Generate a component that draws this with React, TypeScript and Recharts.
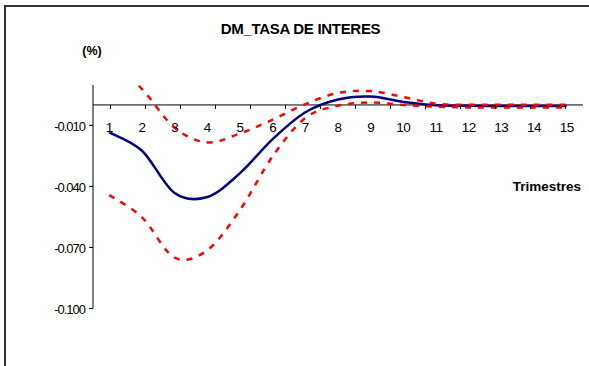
import { LineChart, Line, XAxis, YAxis, ReferenceLine } from 'recharts';

const TRIMESTRES = [1, 2, 3, 4, 5, 6, 7, 8, 9, 10, 11, 12, 13, 14, 15];
const DM = [-0.0135, -0.0225, -0.0433, -0.0452, -0.0335, -0.0168, -0.0036, 0.0027, 0.0041, 0.0015, -0.0001, -0.0004, -0.0005, -0.0005, -0.0005];
const BANDA_SUP = [0.022, 0.0078, -0.0112, -0.0184, -0.014, -0.0072, 0.0004, 0.0059, 0.0068, 0.0039, 0.0006, 0.0001, 0.0001, 0.0001, 0.0001];
const BANDA_INF = [-0.0443, -0.0552, -0.075, -0.0714, -0.0516, -0.0252, -0.0064, -0.0004, 0.0012, 0.0, -0.0008, -0.0012, -0.0012, -0.0012, -0.0012];
const Y_TICKS = [-0.1, -0.07, -0.04, -0.01];
const Y_MIN = -0.1;
const Y_MAX = 0.0098;

const W = 589;
const H = 366;
const PLOT_TOP = 85;
const PLOT_BOTTOM = 308.5;
const ZERO_Y = PLOT_TOP + ((PLOT_BOTTOM - PLOT_TOP) * Y_MAX) / (Y_MAX - Y_MIN);
const FONT = '"Liberation Sans", Arial, sans-serif';

const data = TRIMESTRES.map((t, i) => ({ t, dm: DM[i], sup: BANDA_SUP[i], inf: BANDA_INF[i] }));
const EDGES = [...TRIMESTRES.map((t) => t - 0.5), TRIMESTRES[TRIMESTRES.length - 1] + 0.5];

// Excel-like smoothed line (catmull-rom through the points)
const excelSmooth = (context: any) => {
  let pts: [number, number][] = [];
  return {
    areaStart() {},
    areaEnd() {},
    lineStart() {
      pts = [];
    },
    point(x: number, y: number) {
      pts.push([+x, +y]);
    },
    lineEnd() {
      if (!pts.length) return;
      context.moveTo(pts[0][0], pts[0][1]);
      for (let i = 0; i < pts.length - 1; i++) {
        const p0 = pts[i - 1] || pts[i];
        const p1 = pts[i];
        const p2 = pts[i + 1];
        const p3 = pts[i + 2] || p2;
        context.bezierCurveTo(
          p1[0] + (p2[0] - p0[0]) / 6,
          p1[1] + (p2[1] - p0[1]) / 6,
          p2[0] - (p3[0] - p1[0]) / 6,
          p2[1] - (p3[1] - p1[1]) / 6,
          p2[0],
          p2[1]
        );
      }
    },
  };
};

// x labels sit under the zero line, not at the bottom of the plot
function LabelTick(props: any) {
  const { x, payload } = props;
  return (
    <text x={x} y={ZERO_Y + 27.5} textAnchor="middle" fontSize={13.5} fill="#000" letterSpacing={-0.5} fontFamily={FONT}>
      {payload.value}
    </text>
  );
}

function EdgeTick(props: any) {
  const { x } = props;
  return <line x1={x} x2={x} y1={ZERO_Y} y2={ZERO_Y + 4} stroke="#000" strokeWidth={1} />;
}

function YTick(props: any) {
  const { x, y, payload } = props;
  return (
    <text x={x} y={y} dy={5.5} textAnchor="end" fontSize={13} fill="#000" letterSpacing={-1} fontFamily={FONT}>
      {Number(payload.value).toFixed(3)}
    </text>
  );
}

export default function App() {
  return (
    <div style={{ position: 'fixed', left: 0, top: 0, width: W, height: H, overflow: 'hidden', background: '#fff', fontFamily: FONT }}>
      <div style={{ position: 'absolute', left: 0, top: 0 }}>
        <LineChart width={W} height={H} data={data} margin={{ top: PLOT_TOP, right: 6, left: 0, bottom: H - PLOT_BOTTOM - 31 }}>
          <XAxis
            xAxisId="lbl"
            dataKey="t"
            type="number"
            domain={[0.5, 15.5]}
            ticks={TRIMESTRES}
            interval={0}
            axisLine={false}
            tickLine={false}
            tick={<LabelTick />}
            height={30}
          />
          <XAxis
            xAxisId="edge"
            type="number"
            domain={[0.5, 15.5]}
            ticks={EDGES}
            interval={0}
            axisLine={false}
            tickLine={false}
            tick={<EdgeTick />}
            height={1}
          />
          <YAxis
            type="number"
            width={93}
            domain={[Y_MIN, Y_MAX]}
            allowDataOverflow
            ticks={Y_TICKS}
            interval={0}
            tickSize={4}
            tickMargin={4}
            axisLine={{ stroke: '#000' }}
            tickLine={{ stroke: '#000' }}
            tick={<YTick />}
          />
          <ReferenceLine y={0} xAxisId="lbl" stroke="#000" strokeWidth={1} />
          <Line
            xAxisId="lbl"
            dataKey="dm"
            type={excelSmooth as any}
            stroke="#000080"
            strokeWidth={2.5}
            dot={false}
            isAnimationActive={false}
          />
          <Line
            xAxisId="lbl"
            dataKey="sup"
            type={excelSmooth as any}
            stroke="#ff0000"
            strokeWidth={2.5}
            strokeDasharray="6 7"
            dot={false}
            isAnimationActive={false}
          />
          <Line
            xAxisId="lbl"
            dataKey="inf"
            type={excelSmooth as any}
            stroke="#ff0000"
            strokeWidth={2.5}
            strokeDasharray="6 7"
            dot={false}
            isAnimationActive={false}
          />
        </LineChart>
      </div>
      {/* chart frame, only the left and top edges are inside the picture */}
      <div style={{ position: 'absolute', left: 4, top: 5, width: 2, height: H, background: '#333', zIndex: 10 }} />
      <div style={{ position: 'absolute', left: 4, top: 5, width: W, height: 2, background: '#333', zIndex: 10 }} />
      <svg width={W} height={H} style={{ position: 'absolute', left: 0, top: 0, pointerEvents: 'none', zIndex: 5 }}>
        <text x={300.5} y={34.3} textAnchor="middle" fontSize={15} fontWeight="bold" fill="#000" letterSpacing={-0.3} fontFamily={FONT}>
          DM_TASA DE INTERES
        </text>
        <text x={92} y={55} textAnchor="middle" fontSize={12.5} fontWeight="bold" fill="#000" fontFamily={FONT}>
          (%)
        </text>
        <text x={581} y={190.7} textAnchor="end" fontSize={13.5} fontWeight="bold" fill="#000" fontFamily={FONT}>
          Trimestres
        </text>
      </svg>
    </div>
  );
}
